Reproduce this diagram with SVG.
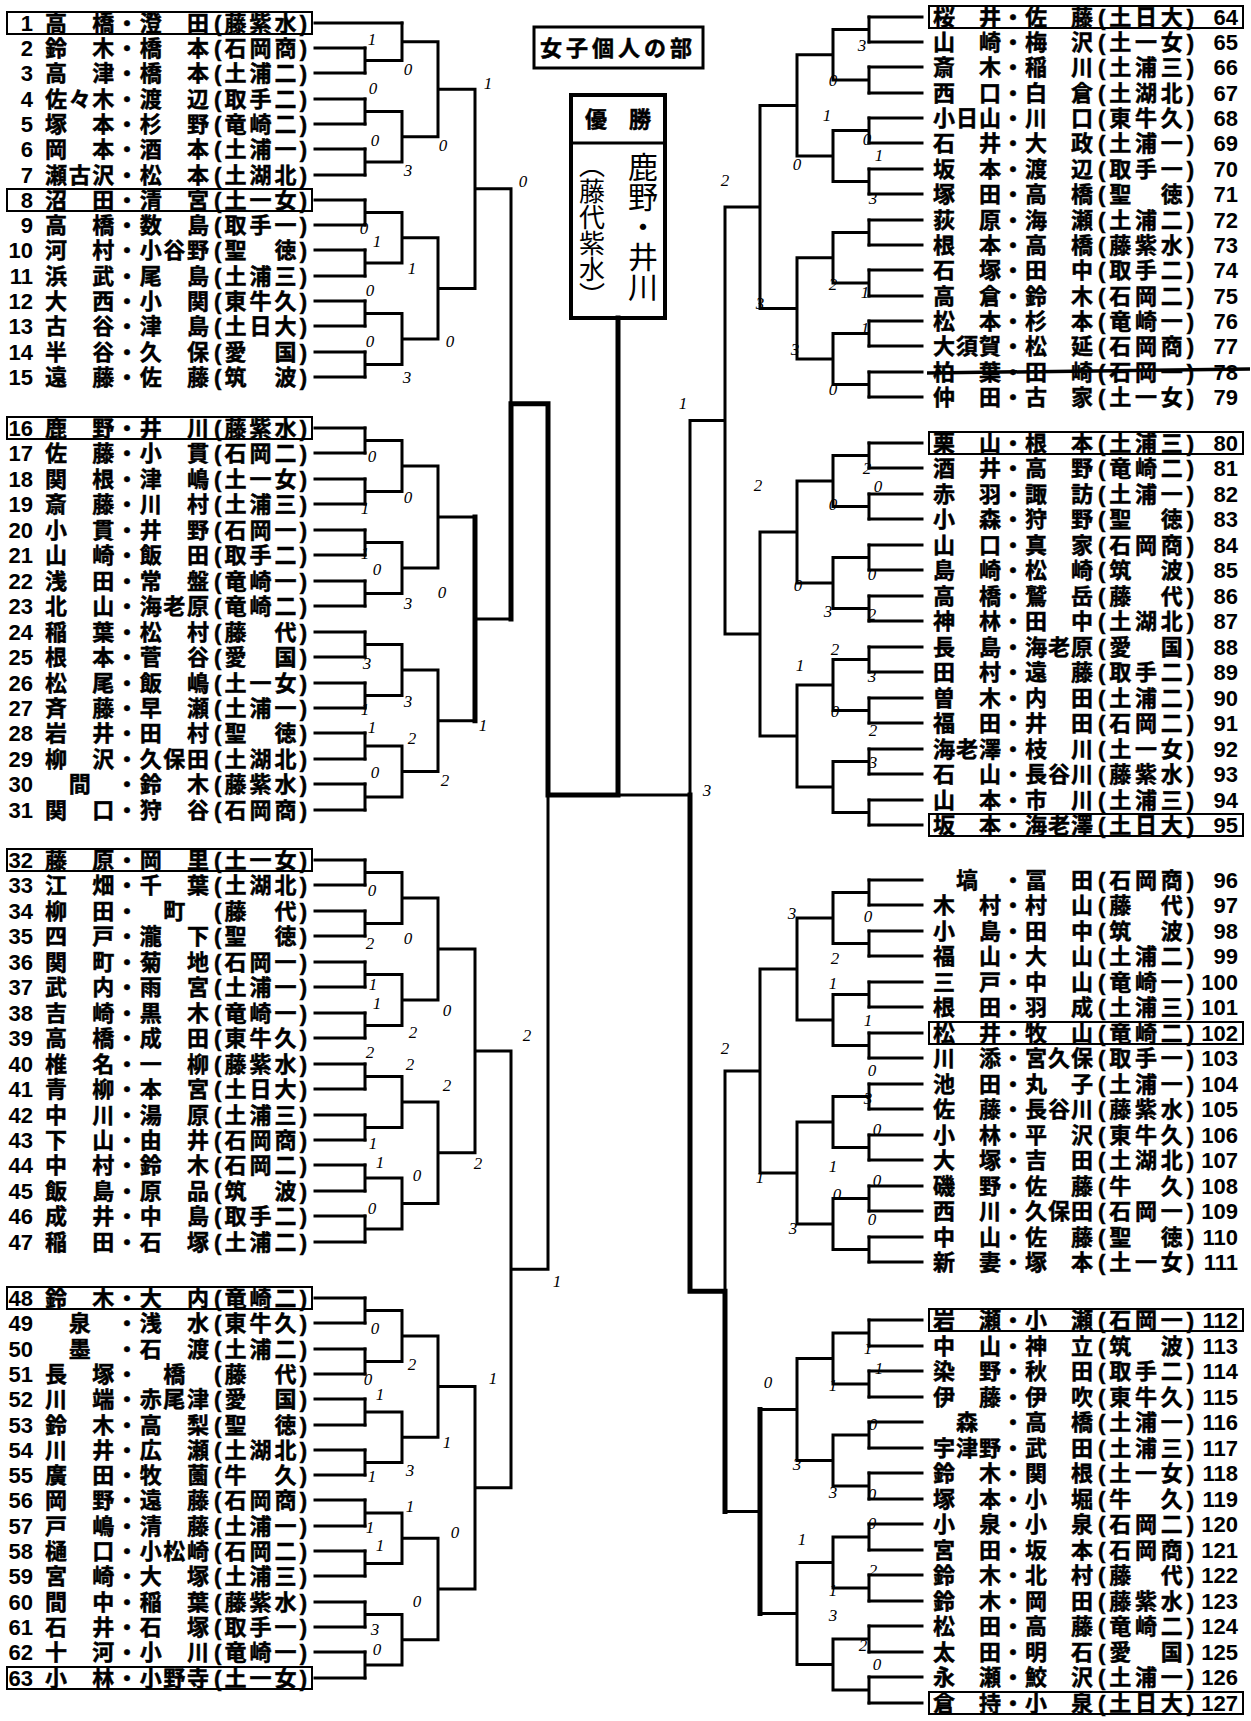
<svg xmlns="http://www.w3.org/2000/svg" width="1251" height="1721" viewBox="0 0 1251 1721">
<style>
.t{font-family:"Liberation Sans","Noto Sans CJK JP","Noto Sans CJK SC",sans-serif;font-size:22px;font-weight:700;fill:#000;stroke:#000;stroke-width:0.5}
.n{font-family:"Liberation Sans",Arial,sans-serif;font-size:22px;font-weight:700;text-anchor:end;fill:#000}
.sc{font-family:"Liberation Serif",serif;font-style:italic;font-size:17px;text-anchor:middle;fill:#000}
.ln{fill:none;stroke:#000;stroke-width:3;stroke-linecap:square}
.tk{fill:none;stroke:#000;stroke-width:5;stroke-linecap:square}
.bx{fill:none;stroke:#000;stroke-width:2}
.hw{font-family:"Noto Sans CJK JP",sans-serif;font-weight:400;writing-mode:vertical-rl;fill:#000}
</style>
<rect width="1251" height="1721" fill="#fff"/>

<g id="title">
<rect x="534" y="27" width="169" height="41" fill="none" stroke="#000" stroke-width="3"/>
<text class="t" x="618" y="56" text-anchor="middle" font-size="21" letter-spacing="4">女子個人の部</text>
</g>
<g id="champion">
<rect x="571" y="95" width="94" height="223" fill="none" stroke="#000" stroke-width="4"/>
<line x1="571" y1="143" x2="665" y2="143" stroke="#000" stroke-width="3"/>
<text class="t" x="618" y="127" text-anchor="middle" font-size="19">優　勝</text>
<text class="hw" x="643" y="152" font-size="30">鹿野・井川</text>
<text class="hw" x="592" y="152" font-size="26">（藤代紫水）</text>
</g>

<g id="connectors">
<path class="ln" d="M315,23H402 M315,48H365 M315,73H365 M315,99H365 M315,124H365 M315,149H365 M315,175H365 M315,200H365 M315,225H365 M315,250H365 M315,276H365 M315,301H365 M315,326H365 M315,352H365 M315,377H365
M315,428H365 M315,453H365 M315,479H365 M315,504H365 M315,530H365 M315,555H365 M315,581H365 M315,606H365 M315,632H365 M315,657H365 M315,683H365 M315,708H365 M315,733H365 M315,759H365 M315,784H365 M315,810H365
M315,860H365 M315,885H365 M315,911H365 M315,936H365 M315,962H365 M315,987H365 M315,1013H365 M315,1038H365 M315,1064H365 M315,1089H365 M315,1115H365 M315,1140H365 M315,1165H365 M315,1191H365 M315,1216H365 M315,1242H365
M315,1298H365 M315,1323H365 M315,1349H365 M315,1374H365 M315,1399H365 M315,1425H365 M315,1450H365 M315,1475H365 M315,1500H365 M315,1526H365 M315,1551H365 M315,1576H365 M315,1602H365 M315,1627H365 M315,1652H365 M315,1678H365"/>
<path class="ln" d="M365,48V73M365,60.5H402 M365,99V124M365,111.5H402 M365,149V175M365,162H402 M365,200V225M365,212.5H402 M365,250V276M365,263H402 M365,301V326M365,313.5H402 M365,352V377M365,364.5H402
M402,23V60.5M402,41.75H438 M402,111.5V162M402,136.75H438 M402,212.5V263M402,237.75H438 M402,313.5V364.5M402,339H438
M438,41.75V136.75M438,89.25H475 M438,237.75V339M438,288.4H475
M475,89.25V288.4M475,188.8H511
M365,428V453M365,440.5H402 M365,479V504M365,491.5H402 M365,530V555M365,542.5H402 M365,581V606M365,593.5H402 M365,632V657M365,644.5H402 M365,683V708M365,695.5H402 M365,733V759M365,746H402 M365,784V810M365,797H402
M402,440.5V491.5M402,466H438 M402,542.5V593.5M402,568H438 M402,644.5V695.5M402,670H438 M402,746V797M402,771.5H438
M438,466V568M438,517H475 M438,670V771.5M438,720.75H475
M475,517V720.75M475,618.9H511
M511,188.8V618.9M511,403.85H548
M365,860V885M365,872.5H402 M365,911V936M365,923.5H402 M365,962V987M365,974.5H402 M365,1013V1038M365,1025.5H402 M365,1064V1089M365,1076.5H402 M365,1115V1140M365,1127.5H402 M365,1165V1191M365,1178H402 M365,1216V1242M365,1229H402
M402,872.5V923.5M402,898H438 M402,974.5V1025.5M402,1000H438 M402,1076.5V1127.5M402,1102H438 M402,1178V1229M402,1203.5H438
M438,898V1000M438,949H475 M438,1102V1203.5M438,1152.75H475
M475,949V1152.75M475,1050.9H511
M365,1298V1323M365,1310.5H402 M365,1349V1374M365,1361.5H402 M365,1399V1425M365,1412H402 M365,1450V1475M365,1462.5H402 M365,1500V1526M365,1513H402 M365,1551V1576M365,1563.5H402 M365,1602V1627M365,1614.5H402 M365,1652V1678M365,1665H402
M402,1310.5V1361.5M402,1336H438 M402,1412V1462.5M402,1437.25H438 M402,1513V1563.5M402,1538.25H438 M402,1614.5V1665M402,1639.75H438
M438,1336V1437.25M438,1386.6H475 M438,1538.25V1639.75M438,1589H475
M475,1386.6V1589M475,1487.8H511
M511,1050.9V1487.8M511,1269.35H548
M548,403.85V1269.35 M548,795H690"/>
<path class="ln" d="M922,17H869 M922,42H869 M922,67H869 M922,93H869 M922,118H869 M922,143H869 M922,169H869 M922,194H869 M922,220H869 M922,245H869 M922,270H869 M922,296H869 M922,321H869 M922,346H869 M922,372H869 M922,397H869
M922,443H869 M922,468H869 M922,494H869 M922,519H869 M922,545H869 M922,570H869 M922,596H869 M922,621H869 M922,647H869 M922,672H869 M922,698H869 M922,723H869 M922,749H869 M922,774H869 M922,800H869 M922,825H869
M922,880H869 M922,905H869 M922,931H869 M922,956H869 M922,982H869 M922,1007H869 M922,1033H869 M922,1058H869 M922,1084H869 M922,1109H869 M922,1135H869 M922,1160H869 M922,1186H869 M922,1211H869 M922,1237H869 M922,1262H869
M922,1320H869 M922,1346H869 M922,1371H869 M922,1397H869 M922,1422H869 M922,1448H869 M922,1473H869 M922,1499H869 M922,1524H869 M922,1550H869 M922,1575H869 M922,1601H869 M922,1626H869 M922,1652H869 M922,1677H869 M922,1703H869"/>
<path class="ln" d="M869,17V42M869,29.5H833 M869,67V93M869,80H833 M869,118V143M869,130.5H833 M869,169V194M869,181.5H833 M869,220V245M869,232.5H833 M869,270V296M869,283H833 M869,321V346M869,333.5H833 M869,372V397M869,384.5H833
M833,29.5V80M833,54.75H797 M833,130.5V181.5M833,156H797 M833,232.5V283M833,257.75H797 M833,333.5V384.5M833,359H797
M797,54.75V156M797,105.4H760 M797,257.75V359M797,308.4H760
M760,105.4V308.4M760,206.9H725
M869,443V468M869,455.5H833 M869,494V519M869,506.5H833 M869,545V570M869,557.5H833 M869,596V621M869,608.5H833 M869,647V672M869,659.5H833 M869,698V723M869,710.5H833 M869,749V774M869,761.5H833 M869,800V825M869,812.5H833
M833,455.5V506.5M833,481H797 M833,557.5V608.5M833,583H797 M833,659.5V710.5M833,685H797 M833,761.5V812.5M833,787H797
M797,481V583M797,532H760 M797,685V787M797,736H760
M760,532V736M760,634H725
M725,206.9V634M725,420.45H690
M869,880V905M869,892.5H833 M869,931V956M869,943.5H833 M869,982V1007M869,994.5H833 M869,1033V1058M869,1045.5H833 M869,1084V1109M869,1096.5H833 M869,1135V1160M869,1147.5H833 M869,1186V1211M869,1198.5H833 M869,1237V1262M869,1249.5H833
M833,892.5V943.5M833,918H797 M833,994.5V1045.5M833,1020H797 M833,1096.5V1147.5M833,1122H797 M833,1198.5V1249.5M833,1224H797
M797,918V1020M797,969H760 M797,1122V1224M797,1173H760
M760,969V1173M760,1071H725
M869,1320V1346M869,1333H833 M869,1371V1397M869,1384H833 M869,1422V1448M869,1435H833 M869,1473V1499M869,1486H833 M869,1524V1550M869,1537H833 M869,1575V1601M869,1588H833 M869,1626V1652M869,1639H833 M869,1677V1703M869,1690H833
M833,1333V1384M833,1358.5H797 M833,1435V1486M833,1460.5H797 M833,1537V1588M833,1562.5H797 M833,1639V1690M833,1664.5H797
M797,1358.5V1460.5M797,1409.5H760 M797,1562.5V1664.5M797,1613.5H760
M760,1409.5V1613.5M760,1511.5H725
M725,1071V1511.5M725,1291.25H690
M690,420.45V1291.25"/>
<path class="tk" d="M475,517V720.75 M511,618.9V403.85H548V795H618 M618,318V795 M690,795V1291.25H725V1511.5 M760,1409.5V1613.5"/>
<path d="M927,373L1250,369" stroke="#000" stroke-width="3.5"/>
</g>

<g id="left-entries">
<g id="p1" transform="translate(0,31)"><rect class="bx" x="7" y="-19" width="305" height="22"/><text class="n" x="33">1</text><text class="t" x="45" textLength="164">高　橋・澄　田</text><text class="t" x="214" textLength="93">(藤紫水)</text></g>
<g id="p2" transform="translate(0,56)"><text class="n" x="33">2</text><text class="t" x="45" textLength="164">鈴　木・橋　本</text><text class="t" x="214" textLength="93">(石岡商)</text></g>
<g id="p3" transform="translate(0,81)"><text class="n" x="33">3</text><text class="t" x="45" textLength="164">高　津・橋　本</text><text class="t" x="214" textLength="93">(土浦二)</text></g>
<g id="p4" transform="translate(0,107)"><text class="n" x="33">4</text><text class="t" x="45" textLength="164">佐々木・渡　辺</text><text class="t" x="214" textLength="93">(取手二)</text></g>
<g id="p5" transform="translate(0,132)"><text class="n" x="33">5</text><text class="t" x="45" textLength="164">塚　本・杉　野</text><text class="t" x="214" textLength="93">(竜崎二)</text></g>
<g id="p6" transform="translate(0,157)"><text class="n" x="33">6</text><text class="t" x="45" textLength="164">岡　本・酒　本</text><text class="t" x="214" textLength="93">(土浦一)</text></g>
<g id="p7" transform="translate(0,183)"><text class="n" x="33">7</text><text class="t" x="45" textLength="164">瀬古沢・松　本</text><text class="t" x="214" textLength="93">(土湖北)</text></g>
<g id="p8" transform="translate(0,208)"><rect class="bx" x="7" y="-19" width="305" height="22"/><text class="n" x="33">8</text><text class="t" x="45" textLength="164">沼　田・清　宮</text><text class="t" x="214" textLength="93">(土一女)</text></g>
<g id="p9" transform="translate(0,233)"><text class="n" x="33">9</text><text class="t" x="45" textLength="164">高　橋・数　島</text><text class="t" x="214" textLength="93">(取手一)</text></g>
<g id="p10" transform="translate(0,258)"><text class="n" x="33">10</text><text class="t" x="45" textLength="164">河　村・小谷野</text><text class="t" x="214" textLength="93">(聖　徳)</text></g>
<g id="p11" transform="translate(0,284)"><text class="n" x="33">11</text><text class="t" x="45" textLength="164">浜　武・尾　島</text><text class="t" x="214" textLength="93">(土浦三)</text></g>
<g id="p12" transform="translate(0,309)"><text class="n" x="33">12</text><text class="t" x="45" textLength="164">大　西・小　関</text><text class="t" x="214" textLength="93">(東牛久)</text></g>
<g id="p13" transform="translate(0,334)"><text class="n" x="33">13</text><text class="t" x="45" textLength="164">古　谷・津　島</text><text class="t" x="214" textLength="93">(土日大)</text></g>
<g id="p14" transform="translate(0,360)"><text class="n" x="33">14</text><text class="t" x="45" textLength="164">半　谷・久　保</text><text class="t" x="214" textLength="93">(愛　国)</text></g>
<g id="p15" transform="translate(0,385)"><text class="n" x="33">15</text><text class="t" x="45" textLength="164">遠　藤・佐　藤</text><text class="t" x="214" textLength="93">(筑　波)</text></g>
<g id="p16" transform="translate(0,436)"><rect class="bx" x="7" y="-19" width="305" height="22"/><text class="n" x="33">16</text><text class="t" x="45" textLength="164">鹿　野・井　川</text><text class="t" x="214" textLength="93">(藤紫水)</text></g>
<g id="p17" transform="translate(0,461)"><text class="n" x="33">17</text><text class="t" x="45" textLength="164">佐　藤・小　貫</text><text class="t" x="214" textLength="93">(石岡二)</text></g>
<g id="p18" transform="translate(0,487)"><text class="n" x="33">18</text><text class="t" x="45" textLength="164">関　根・津　嶋</text><text class="t" x="214" textLength="93">(土一女)</text></g>
<g id="p19" transform="translate(0,512)"><text class="n" x="33">19</text><text class="t" x="45" textLength="164">斎　藤・川　村</text><text class="t" x="214" textLength="93">(土浦三)</text></g>
<g id="p20" transform="translate(0,538)"><text class="n" x="33">20</text><text class="t" x="45" textLength="164">小　貫・井　野</text><text class="t" x="214" textLength="93">(石岡一)</text></g>
<g id="p21" transform="translate(0,563)"><text class="n" x="33">21</text><text class="t" x="45" textLength="164">山　崎・飯　田</text><text class="t" x="214" textLength="93">(取手二)</text></g>
<g id="p22" transform="translate(0,589)"><text class="n" x="33">22</text><text class="t" x="45" textLength="164">浅　田・常　盤</text><text class="t" x="214" textLength="93">(竜崎一)</text></g>
<g id="p23" transform="translate(0,614)"><text class="n" x="33">23</text><text class="t" x="45" textLength="164">北　山・海老原</text><text class="t" x="214" textLength="93">(竜崎二)</text></g>
<g id="p24" transform="translate(0,640)"><text class="n" x="33">24</text><text class="t" x="45" textLength="164">稲　葉・松　村</text><text class="t" x="214" textLength="93">(藤　代)</text></g>
<g id="p25" transform="translate(0,665)"><text class="n" x="33">25</text><text class="t" x="45" textLength="164">根　本・菅　谷</text><text class="t" x="214" textLength="93">(愛　国)</text></g>
<g id="p26" transform="translate(0,691)"><text class="n" x="33">26</text><text class="t" x="45" textLength="164">松　尾・飯　嶋</text><text class="t" x="214" textLength="93">(土一女)</text></g>
<g id="p27" transform="translate(0,716)"><text class="n" x="33">27</text><text class="t" x="45" textLength="164">斉　藤・早　瀬</text><text class="t" x="214" textLength="93">(土浦一)</text></g>
<g id="p28" transform="translate(0,741)"><text class="n" x="33">28</text><text class="t" x="45" textLength="164">岩　井・田　村</text><text class="t" x="214" textLength="93">(聖　徳)</text></g>
<g id="p29" transform="translate(0,767)"><text class="n" x="33">29</text><text class="t" x="45" textLength="164">柳　沢・久保田</text><text class="t" x="214" textLength="93">(土湖北)</text></g>
<g id="p30" transform="translate(0,792)"><text class="n" x="33">30</text><text class="t" x="45" textLength="164">　間　・鈴　木</text><text class="t" x="214" textLength="93">(藤紫水)</text></g>
<g id="p31" transform="translate(0,818)"><text class="n" x="33">31</text><text class="t" x="45" textLength="164">関　口・狩　谷</text><text class="t" x="214" textLength="93">(石岡商)</text></g>
<g id="p32" transform="translate(0,868)"><rect class="bx" x="7" y="-19" width="305" height="22"/><text class="n" x="33">32</text><text class="t" x="45" textLength="164">藤　原・岡　里</text><text class="t" x="214" textLength="93">(土一女)</text></g>
<g id="p33" transform="translate(0,893)"><text class="n" x="33">33</text><text class="t" x="45" textLength="164">江　畑・千　葉</text><text class="t" x="214" textLength="93">(土湖北)</text></g>
<g id="p34" transform="translate(0,919)"><text class="n" x="33">34</text><text class="t" x="45" textLength="164">柳　田・　町　</text><text class="t" x="214" textLength="93">(藤　代)</text></g>
<g id="p35" transform="translate(0,944)"><text class="n" x="33">35</text><text class="t" x="45" textLength="164">四　戸・瀧　下</text><text class="t" x="214" textLength="93">(聖　徳)</text></g>
<g id="p36" transform="translate(0,970)"><text class="n" x="33">36</text><text class="t" x="45" textLength="164">関　町・菊　地</text><text class="t" x="214" textLength="93">(石岡一)</text></g>
<g id="p37" transform="translate(0,995)"><text class="n" x="33">37</text><text class="t" x="45" textLength="164">武　内・雨　宮</text><text class="t" x="214" textLength="93">(土浦一)</text></g>
<g id="p38" transform="translate(0,1021)"><text class="n" x="33">38</text><text class="t" x="45" textLength="164">吉　崎・黒　木</text><text class="t" x="214" textLength="93">(竜崎一)</text></g>
<g id="p39" transform="translate(0,1046)"><text class="n" x="33">39</text><text class="t" x="45" textLength="164">高　橋・成　田</text><text class="t" x="214" textLength="93">(東牛久)</text></g>
<g id="p40" transform="translate(0,1072)"><text class="n" x="33">40</text><text class="t" x="45" textLength="164">椎　名・一　柳</text><text class="t" x="214" textLength="93">(藤紫水)</text></g>
<g id="p41" transform="translate(0,1097)"><text class="n" x="33">41</text><text class="t" x="45" textLength="164">青　柳・本　宮</text><text class="t" x="214" textLength="93">(土日大)</text></g>
<g id="p42" transform="translate(0,1123)"><text class="n" x="33">42</text><text class="t" x="45" textLength="164">中　川・湯　原</text><text class="t" x="214" textLength="93">(土浦三)</text></g>
<g id="p43" transform="translate(0,1148)"><text class="n" x="33">43</text><text class="t" x="45" textLength="164">下　山・由　井</text><text class="t" x="214" textLength="93">(石岡商)</text></g>
<g id="p44" transform="translate(0,1173)"><text class="n" x="33">44</text><text class="t" x="45" textLength="164">中　村・鈴　木</text><text class="t" x="214" textLength="93">(石岡二)</text></g>
<g id="p45" transform="translate(0,1199)"><text class="n" x="33">45</text><text class="t" x="45" textLength="164">飯　島・原　品</text><text class="t" x="214" textLength="93">(筑　波)</text></g>
<g id="p46" transform="translate(0,1224)"><text class="n" x="33">46</text><text class="t" x="45" textLength="164">成　井・中　島</text><text class="t" x="214" textLength="93">(取手二)</text></g>
<g id="p47" transform="translate(0,1250)"><text class="n" x="33">47</text><text class="t" x="45" textLength="164">稲　田・石　塚</text><text class="t" x="214" textLength="93">(土浦二)</text></g>
<g id="p48" transform="translate(0,1306)"><rect class="bx" x="7" y="-19" width="305" height="22"/><text class="n" x="33">48</text><text class="t" x="45" textLength="164">鈴　木・大　内</text><text class="t" x="214" textLength="93">(竜崎二)</text></g>
<g id="p49" transform="translate(0,1331)"><text class="n" x="33">49</text><text class="t" x="45" textLength="164">　泉　・浅　水</text><text class="t" x="214" textLength="93">(東牛久)</text></g>
<g id="p50" transform="translate(0,1357)"><text class="n" x="33">50</text><text class="t" x="45" textLength="164">　墨　・石　渡</text><text class="t" x="214" textLength="93">(土浦二)</text></g>
<g id="p51" transform="translate(0,1382)"><text class="n" x="33">51</text><text class="t" x="45" textLength="164">長　塚・　橋　</text><text class="t" x="214" textLength="93">(藤　代)</text></g>
<g id="p52" transform="translate(0,1407)"><text class="n" x="33">52</text><text class="t" x="45" textLength="164">川　端・赤尾津</text><text class="t" x="214" textLength="93">(愛　国)</text></g>
<g id="p53" transform="translate(0,1433)"><text class="n" x="33">53</text><text class="t" x="45" textLength="164">鈴　木・高　梨</text><text class="t" x="214" textLength="93">(聖　徳)</text></g>
<g id="p54" transform="translate(0,1458)"><text class="n" x="33">54</text><text class="t" x="45" textLength="164">川　井・広　瀬</text><text class="t" x="214" textLength="93">(土湖北)</text></g>
<g id="p55" transform="translate(0,1483)"><text class="n" x="33">55</text><text class="t" x="45" textLength="164">廣　田・牧　薗</text><text class="t" x="214" textLength="93">(牛　久)</text></g>
<g id="p56" transform="translate(0,1508)"><text class="n" x="33">56</text><text class="t" x="45" textLength="164">岡　野・遠　藤</text><text class="t" x="214" textLength="93">(石岡商)</text></g>
<g id="p57" transform="translate(0,1534)"><text class="n" x="33">57</text><text class="t" x="45" textLength="164">戸　嶋・清　藤</text><text class="t" x="214" textLength="93">(土浦一)</text></g>
<g id="p58" transform="translate(0,1559)"><text class="n" x="33">58</text><text class="t" x="45" textLength="164">樋　口・小松崎</text><text class="t" x="214" textLength="93">(石岡二)</text></g>
<g id="p59" transform="translate(0,1584)"><text class="n" x="33">59</text><text class="t" x="45" textLength="164">宮　崎・大　塚</text><text class="t" x="214" textLength="93">(土浦三)</text></g>
<g id="p60" transform="translate(0,1610)"><text class="n" x="33">60</text><text class="t" x="45" textLength="164">間　中・稲　葉</text><text class="t" x="214" textLength="93">(藤紫水)</text></g>
<g id="p61" transform="translate(0,1635)"><text class="n" x="33">61</text><text class="t" x="45" textLength="164">石　井・石　塚</text><text class="t" x="214" textLength="93">(取手一)</text></g>
<g id="p62" transform="translate(0,1660)"><text class="n" x="33">62</text><text class="t" x="45" textLength="164">十　河・小　川</text><text class="t" x="214" textLength="93">(竜崎一)</text></g>
<g id="p63" transform="translate(0,1686)"><rect class="bx" x="7" y="-19" width="305" height="22"/><text class="n" x="33">63</text><text class="t" x="45" textLength="164">小　林・小野寺</text><text class="t" x="214" textLength="93">(土一女)</text></g>
</g>

<g id="right-entries">
<g id="p64" transform="translate(0,25)"><rect class="bx" x="929" y="-19" width="314" height="22"/><text class="t" x="933" textLength="160">桜　井・佐　藤</text><text class="t" x="1098" textLength="96">(土日大)</text><text class="n" x="1238">64</text></g>
<g id="p65" transform="translate(0,50)"><text class="t" x="933" textLength="160">山　崎・梅　沢</text><text class="t" x="1098" textLength="96">(土一女)</text><text class="n" x="1238">65</text></g>
<g id="p66" transform="translate(0,75)"><text class="t" x="933" textLength="160">斎　木・稲　川</text><text class="t" x="1098" textLength="96">(土浦三)</text><text class="n" x="1238">66</text></g>
<g id="p67" transform="translate(0,101)"><text class="t" x="933" textLength="160">西　口・白　倉</text><text class="t" x="1098" textLength="96">(土湖北)</text><text class="n" x="1238">67</text></g>
<g id="p68" transform="translate(0,126)"><text class="t" x="933" textLength="160">小日山・川　口</text><text class="t" x="1098" textLength="96">(東牛久)</text><text class="n" x="1238">68</text></g>
<g id="p69" transform="translate(0,151)"><text class="t" x="933" textLength="160">石　井・大　政</text><text class="t" x="1098" textLength="96">(土浦一)</text><text class="n" x="1238">69</text></g>
<g id="p70" transform="translate(0,177)"><text class="t" x="933" textLength="160">坂　本・渡　辺</text><text class="t" x="1098" textLength="96">(取手一)</text><text class="n" x="1238">70</text></g>
<g id="p71" transform="translate(0,202)"><text class="t" x="933" textLength="160">塚　田・高　橋</text><text class="t" x="1098" textLength="96">(聖　徳)</text><text class="n" x="1238">71</text></g>
<g id="p72" transform="translate(0,228)"><text class="t" x="933" textLength="160">荻　原・海　瀬</text><text class="t" x="1098" textLength="96">(土浦二)</text><text class="n" x="1238">72</text></g>
<g id="p73" transform="translate(0,253)"><text class="t" x="933" textLength="160">根　本・高　橋</text><text class="t" x="1098" textLength="96">(藤紫水)</text><text class="n" x="1238">73</text></g>
<g id="p74" transform="translate(0,278)"><text class="t" x="933" textLength="160">石　塚・田　中</text><text class="t" x="1098" textLength="96">(取手二)</text><text class="n" x="1238">74</text></g>
<g id="p75" transform="translate(0,304)"><text class="t" x="933" textLength="160">高　倉・鈴　木</text><text class="t" x="1098" textLength="96">(石岡二)</text><text class="n" x="1238">75</text></g>
<g id="p76" transform="translate(0,329)"><text class="t" x="933" textLength="160">松　本・杉　本</text><text class="t" x="1098" textLength="96">(竜崎一)</text><text class="n" x="1238">76</text></g>
<g id="p77" transform="translate(0,354)"><text class="t" x="933" textLength="160">大須賀・松　延</text><text class="t" x="1098" textLength="96">(石岡商)</text><text class="n" x="1238">77</text></g>
<g id="p78" transform="translate(0,380)"><text class="t" x="933" textLength="160">柏　葉・田　崎</text><text class="t" x="1098" textLength="96">(石岡一)</text><text class="n" x="1238">78</text></g>
<g id="p79" transform="translate(0,405)"><text class="t" x="933" textLength="160">仲　田・古　家</text><text class="t" x="1098" textLength="96">(土一女)</text><text class="n" x="1238">79</text></g>
<g id="p80" transform="translate(0,451)"><rect class="bx" x="929" y="-19" width="314" height="22"/><text class="t" x="933" textLength="160">栗　山・根　本</text><text class="t" x="1098" textLength="96">(土浦三)</text><text class="n" x="1238">80</text></g>
<g id="p81" transform="translate(0,476)"><text class="t" x="933" textLength="160">酒　井・高　野</text><text class="t" x="1098" textLength="96">(竜崎二)</text><text class="n" x="1238">81</text></g>
<g id="p82" transform="translate(0,502)"><text class="t" x="933" textLength="160">赤　羽・諏　訪</text><text class="t" x="1098" textLength="96">(土浦一)</text><text class="n" x="1238">82</text></g>
<g id="p83" transform="translate(0,527)"><text class="t" x="933" textLength="160">小　森・狩　野</text><text class="t" x="1098" textLength="96">(聖　徳)</text><text class="n" x="1238">83</text></g>
<g id="p84" transform="translate(0,553)"><text class="t" x="933" textLength="160">山　口・真　家</text><text class="t" x="1098" textLength="96">(石岡商)</text><text class="n" x="1238">84</text></g>
<g id="p85" transform="translate(0,578)"><text class="t" x="933" textLength="160">島　崎・松　崎</text><text class="t" x="1098" textLength="96">(筑　波)</text><text class="n" x="1238">85</text></g>
<g id="p86" transform="translate(0,604)"><text class="t" x="933" textLength="160">高　橋・鷲　岳</text><text class="t" x="1098" textLength="96">(藤　代)</text><text class="n" x="1238">86</text></g>
<g id="p87" transform="translate(0,629)"><text class="t" x="933" textLength="160">神　林・田　中</text><text class="t" x="1098" textLength="96">(土湖北)</text><text class="n" x="1238">87</text></g>
<g id="p88" transform="translate(0,655)"><text class="t" x="933" textLength="160">長　島・海老原</text><text class="t" x="1098" textLength="96">(愛　国)</text><text class="n" x="1238">88</text></g>
<g id="p89" transform="translate(0,680)"><text class="t" x="933" textLength="160">田　村・遠　藤</text><text class="t" x="1098" textLength="96">(取手二)</text><text class="n" x="1238">89</text></g>
<g id="p90" transform="translate(0,706)"><text class="t" x="933" textLength="160">曽　木・内　田</text><text class="t" x="1098" textLength="96">(土浦二)</text><text class="n" x="1238">90</text></g>
<g id="p91" transform="translate(0,731)"><text class="t" x="933" textLength="160">福　田・井　田</text><text class="t" x="1098" textLength="96">(石岡二)</text><text class="n" x="1238">91</text></g>
<g id="p92" transform="translate(0,757)"><text class="t" x="933" textLength="160">海老澤・枝　川</text><text class="t" x="1098" textLength="96">(土一女)</text><text class="n" x="1238">92</text></g>
<g id="p93" transform="translate(0,782)"><text class="t" x="933" textLength="160">石　山・長谷川</text><text class="t" x="1098" textLength="96">(藤紫水)</text><text class="n" x="1238">93</text></g>
<g id="p94" transform="translate(0,808)"><text class="t" x="933" textLength="160">山　本・市　川</text><text class="t" x="1098" textLength="96">(土浦三)</text><text class="n" x="1238">94</text></g>
<g id="p95" transform="translate(0,833)"><rect class="bx" x="929" y="-19" width="314" height="22"/><text class="t" x="933" textLength="160">坂　本・海老澤</text><text class="t" x="1098" textLength="96">(土日大)</text><text class="n" x="1238">95</text></g>
<g id="p96" transform="translate(0,888)"><text class="t" x="933" textLength="160">　塙　・冨　田</text><text class="t" x="1098" textLength="96">(石岡商)</text><text class="n" x="1238">96</text></g>
<g id="p97" transform="translate(0,913)"><text class="t" x="933" textLength="160">木　村・村　山</text><text class="t" x="1098" textLength="96">(藤　代)</text><text class="n" x="1238">97</text></g>
<g id="p98" transform="translate(0,939)"><text class="t" x="933" textLength="160">小　島・田　中</text><text class="t" x="1098" textLength="96">(筑　波)</text><text class="n" x="1238">98</text></g>
<g id="p99" transform="translate(0,964)"><text class="t" x="933" textLength="160">福　山・大　山</text><text class="t" x="1098" textLength="96">(土浦二)</text><text class="n" x="1238">99</text></g>
<g id="p100" transform="translate(0,990)"><text class="t" x="933" textLength="160">三　戸・中　山</text><text class="t" x="1098" textLength="96">(竜崎一)</text><text class="n" x="1238">100</text></g>
<g id="p101" transform="translate(0,1015)"><text class="t" x="933" textLength="160">根　田・羽　成</text><text class="t" x="1098" textLength="96">(土浦三)</text><text class="n" x="1238">101</text></g>
<g id="p102" transform="translate(0,1041)"><rect class="bx" x="929" y="-19" width="314" height="22"/><text class="t" x="933" textLength="160">松　井・牧　山</text><text class="t" x="1098" textLength="96">(竜崎二)</text><text class="n" x="1238">102</text></g>
<g id="p103" transform="translate(0,1066)"><text class="t" x="933" textLength="160">川　添・宮久保</text><text class="t" x="1098" textLength="96">(取手一)</text><text class="n" x="1238">103</text></g>
<g id="p104" transform="translate(0,1092)"><text class="t" x="933" textLength="160">池　田・丸　子</text><text class="t" x="1098" textLength="96">(土浦一)</text><text class="n" x="1238">104</text></g>
<g id="p105" transform="translate(0,1117)"><text class="t" x="933" textLength="160">佐　藤・長谷川</text><text class="t" x="1098" textLength="96">(藤紫水)</text><text class="n" x="1238">105</text></g>
<g id="p106" transform="translate(0,1143)"><text class="t" x="933" textLength="160">小　林・平　沢</text><text class="t" x="1098" textLength="96">(東牛久)</text><text class="n" x="1238">106</text></g>
<g id="p107" transform="translate(0,1168)"><text class="t" x="933" textLength="160">大　塚・吉　田</text><text class="t" x="1098" textLength="96">(土湖北)</text><text class="n" x="1238">107</text></g>
<g id="p108" transform="translate(0,1194)"><text class="t" x="933" textLength="160">磯　野・佐　藤</text><text class="t" x="1098" textLength="96">(牛　久)</text><text class="n" x="1238">108</text></g>
<g id="p109" transform="translate(0,1219)"><text class="t" x="933" textLength="160">西　川・久保田</text><text class="t" x="1098" textLength="96">(石岡一)</text><text class="n" x="1238">109</text></g>
<g id="p110" transform="translate(0,1245)"><text class="t" x="933" textLength="160">中　山・佐　藤</text><text class="t" x="1098" textLength="96">(聖　徳)</text><text class="n" x="1238">110</text></g>
<g id="p111" transform="translate(0,1270)"><text class="t" x="933" textLength="160">新　妻・塚　本</text><text class="t" x="1098" textLength="96">(土一女)</text><text class="n" x="1238">111</text></g>
<g id="p112" transform="translate(0,1328)"><rect class="bx" x="929" y="-19" width="314" height="22"/><text class="t" x="933" textLength="160">岩　瀬・小　瀬</text><text class="t" x="1098" textLength="96">(石岡一)</text><text class="n" x="1238">112</text></g>
<g id="p113" transform="translate(0,1354)"><text class="t" x="933" textLength="160">中　山・神　立</text><text class="t" x="1098" textLength="96">(筑　波)</text><text class="n" x="1238">113</text></g>
<g id="p114" transform="translate(0,1379)"><text class="t" x="933" textLength="160">染　野・秋　田</text><text class="t" x="1098" textLength="96">(取手二)</text><text class="n" x="1238">114</text></g>
<g id="p115" transform="translate(0,1405)"><text class="t" x="933" textLength="160">伊　藤・伊　吹</text><text class="t" x="1098" textLength="96">(東牛久)</text><text class="n" x="1238">115</text></g>
<g id="p116" transform="translate(0,1430)"><text class="t" x="933" textLength="160">　森　・高　橋</text><text class="t" x="1098" textLength="96">(土浦一)</text><text class="n" x="1238">116</text></g>
<g id="p117" transform="translate(0,1456)"><text class="t" x="933" textLength="160">宇津野・武　田</text><text class="t" x="1098" textLength="96">(土浦三)</text><text class="n" x="1238">117</text></g>
<g id="p118" transform="translate(0,1481)"><text class="t" x="933" textLength="160">鈴　木・関　根</text><text class="t" x="1098" textLength="96">(土一女)</text><text class="n" x="1238">118</text></g>
<g id="p119" transform="translate(0,1507)"><text class="t" x="933" textLength="160">塚　本・小　堀</text><text class="t" x="1098" textLength="96">(牛　久)</text><text class="n" x="1238">119</text></g>
<g id="p120" transform="translate(0,1532)"><text class="t" x="933" textLength="160">小　泉・小　泉</text><text class="t" x="1098" textLength="96">(石岡二)</text><text class="n" x="1238">120</text></g>
<g id="p121" transform="translate(0,1558)"><text class="t" x="933" textLength="160">宮　田・坂　本</text><text class="t" x="1098" textLength="96">(石岡商)</text><text class="n" x="1238">121</text></g>
<g id="p122" transform="translate(0,1583)"><text class="t" x="933" textLength="160">鈴　木・北　村</text><text class="t" x="1098" textLength="96">(藤　代)</text><text class="n" x="1238">122</text></g>
<g id="p123" transform="translate(0,1609)"><text class="t" x="933" textLength="160">鈴　木・岡　田</text><text class="t" x="1098" textLength="96">(藤紫水)</text><text class="n" x="1238">123</text></g>
<g id="p124" transform="translate(0,1634)"><text class="t" x="933" textLength="160">松　田・高　藤</text><text class="t" x="1098" textLength="96">(竜崎二)</text><text class="n" x="1238">124</text></g>
<g id="p125" transform="translate(0,1660)"><text class="t" x="933" textLength="160">太　田・明　石</text><text class="t" x="1098" textLength="96">(愛　国)</text><text class="n" x="1238">125</text></g>
<g id="p126" transform="translate(0,1685)"><text class="t" x="933" textLength="160">永　瀬・鮫　沢</text><text class="t" x="1098" textLength="96">(土浦一)</text><text class="n" x="1238">126</text></g>
<g id="p127" transform="translate(0,1711)"><rect class="bx" x="929" y="-19" width="314" height="22"/><text class="t" x="933" textLength="160">倉　持・小　泉</text><text class="t" x="1098" textLength="96">(土日大)</text><text class="n" x="1238">127</text></g>
</g>

<g id="scores">
<text class="sc" x="372" y="45">1</text><text class="sc" x="408" y="75">0</text><text class="sc" x="488" y="89">1</text><text class="sc" x="373" y="94">0</text><text class="sc" x="375" y="146">0</text><text class="sc" x="443" y="151">0</text><text class="sc" x="408" y="176">3</text><text class="sc" x="523" y="187">0</text><text class="sc" x="364" y="234">0</text><text class="sc" x="377" y="247">1</text><text class="sc" x="412" y="274">1</text><text class="sc" x="370" y="296">0</text><text class="sc" x="370" y="347">0</text><text class="sc" x="450" y="347">0</text><text class="sc" x="407" y="383">3</text>
<text class="sc" x="372" y="462">0</text><text class="sc" x="408" y="503">0</text><text class="sc" x="365" y="514">1</text><text class="sc" x="365" y="559">1</text><text class="sc" x="377" y="575">0</text><text class="sc" x="442" y="598">0</text><text class="sc" x="408" y="609">3</text><text class="sc" x="367" y="669">3</text><text class="sc" x="408" y="707">3</text><text class="sc" x="365" y="715">1</text><text class="sc" x="483" y="731">1</text><text class="sc" x="372" y="733">1</text><text class="sc" x="412" y="744">2</text><text class="sc" x="375" y="778">0</text><text class="sc" x="445" y="786">2</text>
<text class="sc" x="372" y="896">0</text><text class="sc" x="408" y="944">0</text><text class="sc" x="370" y="949">2</text><text class="sc" x="373" y="990">1</text><text class="sc" x="377" y="1009">1</text><text class="sc" x="447" y="1016">0</text><text class="sc" x="413" y="1038">2</text><text class="sc" x="370" y="1058">2</text><text class="sc" x="410" y="1070">2</text><text class="sc" x="447" y="1091">2</text><text class="sc" x="527" y="1041">2</text><text class="sc" x="373" y="1149">1</text><text class="sc" x="380" y="1168">1</text><text class="sc" x="417" y="1181">0</text><text class="sc" x="478" y="1169">2</text><text class="sc" x="372" y="1214">0</text>
<text class="sc" x="375" y="1334">0</text><text class="sc" x="412" y="1370">2</text><text class="sc" x="368" y="1385">0</text><text class="sc" x="380" y="1400">1</text><text class="sc" x="493" y="1384">1</text><text class="sc" x="447" y="1448">1</text><text class="sc" x="410" y="1476">3</text><text class="sc" x="372" y="1482">1</text><text class="sc" x="410" y="1512">1</text><text class="sc" x="370" y="1533">1</text><text class="sc" x="380" y="1551">1</text><text class="sc" x="455" y="1538">0</text><text class="sc" x="417" y="1607">0</text><text class="sc" x="375" y="1635">3</text><text class="sc" x="377" y="1655">0</text><text class="sc" x="557" y="1287">1</text>
<text class="sc" x="862" y="51">3</text><text class="sc" x="833" y="86">0</text><text class="sc" x="827" y="121">1</text><text class="sc" x="867" y="145">0</text><text class="sc" x="879" y="161">1</text><text class="sc" x="797" y="170">0</text><text class="sc" x="725" y="186">2</text><text class="sc" x="873" y="204">3</text><text class="sc" x="833" y="290">2</text><text class="sc" x="865" y="298">1</text><text class="sc" x="760" y="309">3</text><text class="sc" x="865" y="334">1</text><text class="sc" x="795" y="355">3</text><text class="sc" x="833" y="395">0</text><text class="sc" x="683" y="409">1</text>
<text class="sc" x="867" y="474">2</text><text class="sc" x="878" y="492">0</text><text class="sc" x="758" y="491">2</text><text class="sc" x="833" y="510">0</text><text class="sc" x="872" y="580">0</text><text class="sc" x="798" y="591">0</text><text class="sc" x="828" y="617">3</text><text class="sc" x="872" y="620">2</text><text class="sc" x="835" y="655">2</text><text class="sc" x="800" y="671">1</text><text class="sc" x="872" y="682">3</text><text class="sc" x="835" y="717">0</text><text class="sc" x="873" y="736">2</text><text class="sc" x="873" y="768">3</text><text class="sc" x="707" y="796">3</text>
<text class="sc" x="792" y="919">3</text><text class="sc" x="868" y="922">0</text><text class="sc" x="835" y="964">2</text><text class="sc" x="833" y="989">1</text><text class="sc" x="868" y="1026">1</text><text class="sc" x="725" y="1054">2</text><text class="sc" x="872" y="1076">0</text><text class="sc" x="868" y="1104">3</text><text class="sc" x="877" y="1135">0</text><text class="sc" x="833" y="1172">1</text><text class="sc" x="760" y="1183">1</text><text class="sc" x="877" y="1186">0</text><text class="sc" x="837" y="1200">0</text><text class="sc" x="872" y="1225">0</text><text class="sc" x="793" y="1234">3</text>
<text class="sc" x="768" y="1388">0</text><text class="sc" x="868" y="1354">1</text><text class="sc" x="879" y="1374">1</text><text class="sc" x="833" y="1391">1</text><text class="sc" x="873" y="1430">0</text><text class="sc" x="797" y="1470">3</text><text class="sc" x="833" y="1498">3</text><text class="sc" x="872" y="1500">0</text><text class="sc" x="872" y="1529">0</text><text class="sc" x="802" y="1545">1</text><text class="sc" x="873" y="1576">2</text><text class="sc" x="833" y="1596">1</text><text class="sc" x="833" y="1621">3</text><text class="sc" x="863" y="1651">2</text><text class="sc" x="877" y="1670">0</text>
</g>
</svg>
